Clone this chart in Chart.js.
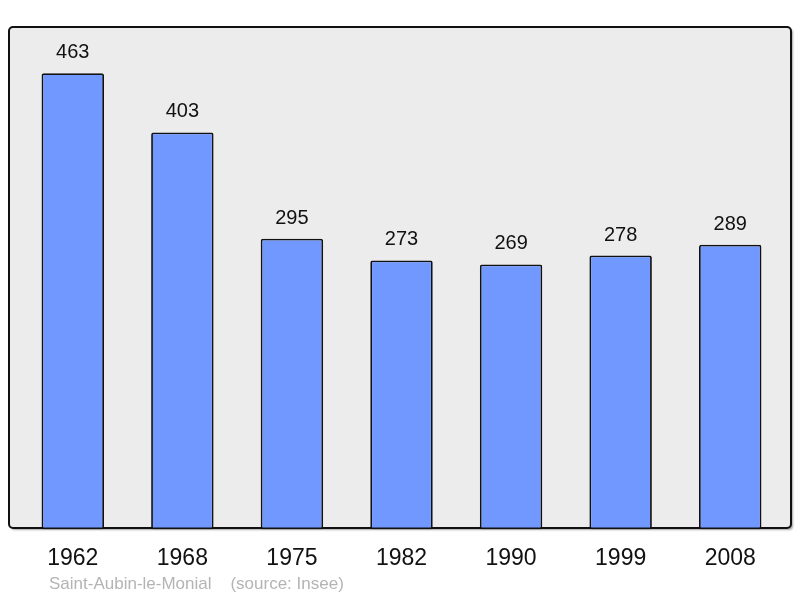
<!DOCTYPE html>
<html>
<head>
<meta charset="utf-8">
<script src="https://cdn.jsdelivr.net/npm/chart.js@4"></script>
<style>
  html, body { margin: 0; padding: 0; background: #fff; }
  #wrap { width: 800px; height: 598px; }
</style>
</head>
<body>
<div id="wrap"><canvas id="chart" width="800" height="598"></canvas></div>
<script>
const years = ["1962", "1968", "1975", "1982", "1990", "1999", "2008"];
const population = [463, 403, 295, 273, 269, 278, 289];
const yMax = 510;
const sourceText = "Saint-Aubin-le-Monial    (source: Insee)";

// grey frame behind the bars
const framePlugin = {
  id: "frame",
  beforeDraw(chart) {
    const ctx = chart.ctx;
    ctx.save();
    ctx.shadowColor = "rgba(0,0,0,0.35)";
    ctx.shadowOffsetX = 2;
    ctx.shadowOffsetY = 2;
    ctx.shadowBlur = 2;
    ctx.beginPath();
    ctx.roundRect(9, 27, 782, 501, 4);
    ctx.fillStyle = "#ececec";
    ctx.fill();
    ctx.shadowColor = "transparent";
    ctx.lineWidth = 2;
    ctx.strokeStyle = "#111";
    ctx.stroke();
    ctx.restore();
  },
  afterDraw(chart) {
    const ctx = chart.ctx;
    ctx.save();
    // values above bars
    ctx.font = "20px 'Liberation Sans', Arial, sans-serif";
    ctx.fillStyle = "#111";
    ctx.textAlign = "center";
    ctx.textBaseline = "alphabetic";
    chart.getDatasetMeta(0).data.forEach((bar, i) => {
      ctx.fillText(String(population[i]), bar.x, bar.y - 15);
    });
    // source line
    ctx.font = "17px 'Liberation Sans', Arial, sans-serif";
    ctx.fillStyle = "#b4b4b4";
    ctx.textAlign = "left";
    ctx.fillText(sourceText, 49, 589);
    ctx.restore();
  },
};

new Chart(document.getElementById("chart"), {
  type: "bar",
  data: {
    labels: years,
    datasets: [
      {
        data: population,
        backgroundColor: "#7098ff",
        borderColor: "#111",
        borderWidth: 1.8,
        borderRadius: 2,
        borderSkipped: false,
        barPercentage: 0.57,
        categoryPercentage: 1,
      },
    ],
  },
  options: {
    responsive: false,
    animation: false,
    layout: { padding: { left: 18, right: 15, top: 27, bottom: 11 } },
    plugins: {
      legend: { display: false },
      tooltip: { enabled: false },
    },
    scales: {
      x: {
        grid: { display: false, drawTicks: false },
        border: { display: false },
        ticks: {
          color: "#111",
          padding: 15,
          font: { family: "'Liberation Sans', Arial, sans-serif", size: 23 },
        },
      },
      y: { display: false, min: 0, max: yMax },
    },
  },
  plugins: [framePlugin],
});
</script>
</body>
</html>
